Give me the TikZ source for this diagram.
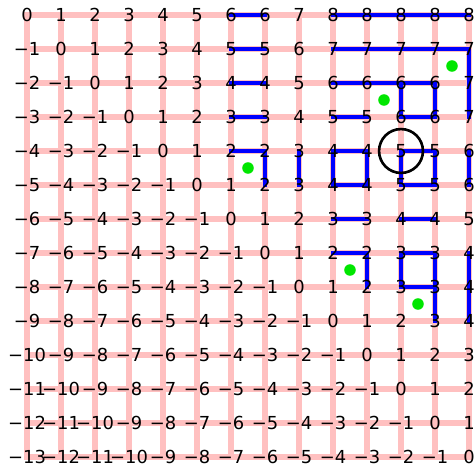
\documentclass[tikz,border=0pt]{standalone}
\usepackage{fontspec}
\setmainfont{DejaVu Sans}
\definecolor{gridpink}{RGB}{255,192,192}
\definecolor{levelblue}{RGB}{0,0,255}
\definecolor{dotgreen}{RGB}{0,230,0}
\newcommand{\signednum}[1]{\ifnum#1<0 −\number-#1\else#1\fi}

\begin{document}
\begin{tikzpicture}[x=1cm, y=-1cm,
    gridline/.style={draw=gridpink, line width=4.2pt, line cap=rect},
    level/.style={draw=levelblue, line width=3.3pt, line cap=rect, line join=miter},
    num/.style={inner sep=0pt, font=\fontsize{15}{18}\selectfont},
    dot/.style={circle, fill=dotgreen, inner sep=0pt, minimum size=0.34cm},
    ring/.style={circle, draw=black, line width=2.2pt, inner sep=0pt, minimum size=1.29cm}]
  \useasboundingbox (-0.794,-0.441) rectangle (13.206,13.235);
  \foreach \c in {0,...,13}
    \foreach \r in {0,...,13}
      \coordinate (p-\c-\r) at (\c,\r);
  \foreach \i in {0,...,13} {
    \draw[gridline] (p-\i-0) -- (p-\i-13);
    \draw[gridline] (p-0-\i) -- (p-13-\i);
  }
  \draw[level] (p-6-0) -- (p-7-0);
  \draw[level] (p-9-0) -- (p-13-0);
  \draw[level] (p-6-1) -- (p-7-1);
  \draw[level] (p-9-1) -- (p-13-1) -- (p-13-3);
  \draw[level] (p-6-2) -- (p-7-2);
  \draw[level] (p-9-2) -- (p-12-2) -- (p-12-3) -- (p-11-3) -- (p-11-2);
  \draw[level] (p-6-3) -- (p-7-3);
  \draw[level] (p-9-3) -- (p-10-3);
  \draw[level] (p-6-4) -- (p-7-4) -- (p-7-5);
  \draw[level] (p-8-4) -- (p-8-5);
  \draw[level] (p-9-4) -- (p-10-4) -- (p-10-5) -- (p-9-5) -- cycle;
  \draw[level] (p-11-4) -- (p-12-4) -- (p-12-5) -- (p-11-5) -- cycle;
  \draw[level] (p-13-4) -- (p-13-5);
  \draw[level] (p-9-6) -- (p-10-6);
  \draw[level] (p-11-6) -- (p-12-6);
  \draw[level] (p-9-7) -- (p-10-7) -- (p-10-8);
  \draw[level] (p-11-8) -- (p-11-7) -- (p-12-7) -- (p-12-9);
  \draw[level] (p-11-8) -- (p-12-8);
  \draw[level] (p-13-7) -- (p-13-9);
  \foreach \vals [count=\r from 0] in {
      {0,1,2,3,4,5,6,6,7,8,8,8,8,8},
      {-1,0,1,2,3,4,5,5,6,7,7,7,7,7},
      {-2,-1,0,1,2,3,4,4,5,6,6,6,6,7},
      {-3,-2,-1,0,1,2,3,3,4,5,5,6,6,7},
      {-4,-3,-2,-1,0,1,2,2,3,4,4,5,5,6},
      {-5,-4,-3,-2,-1,0,1,2,3,4,4,5,5,6},
      {-6,-5,-4,-3,-2,-1,0,1,2,3,3,4,4,5},
      {-7,-6,-5,-4,-3,-2,-1,0,1,2,2,3,3,4},
      {-8,-7,-6,-5,-4,-3,-2,-1,0,1,2,3,3,4},
      {-9,-8,-7,-6,-5,-4,-3,-2,-1,0,1,2,3,4},
      {-10,-9,-8,-7,-6,-5,-4,-3,-2,-1,0,1,2,3},
      {-11,-10,-9,-8,-7,-6,-5,-4,-3,-2,-1,0,1,2},
      {-12,-11,-10,-9,-8,-7,-6,-5,-4,-3,-2,-1,0,1},
      {-13,-12,-11,-10,-9,-8,-7,-6,-5,-4,-3,-2,-1,0}}
    \foreach \v [count=\c from 0] in \vals
      \node[num] (n-\c-\r) at (p-\c-\r) {\signednum{\v}};
  \node[dot] (g-1) at (12.5,1.5) {};
  \node[dot] (g-2) at (10.5,2.5) {};
  \node[dot] (g-3) at (6.5,4.5) {};
  \node[dot] (g-4) at (9.5,7.5) {};
  \node[dot] (g-5) at (11.5,8.5) {};
  \node[ring] (mark) at (p-11-4) {};
\end{tikzpicture}
\end{document}
